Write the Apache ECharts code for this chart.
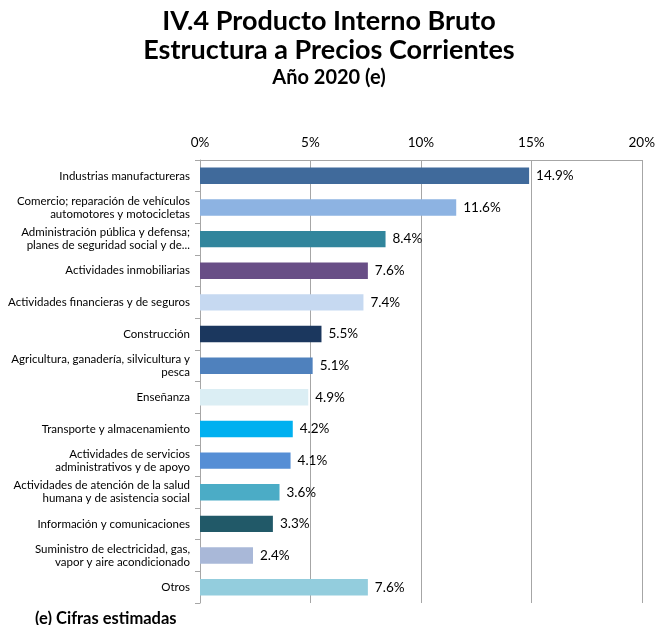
<!DOCTYPE html>
<html>
<head>
<meta charset="utf-8">
<script src="https://cdn.jsdelivr.net/npm/echarts@6/dist/echarts.min.js"></script>
<style>
  html, body { margin: 0; padding: 0; background: #fff; }
  #chart { width: 658px; height: 625px; }
</style>
</head>
<body>
<div id="chart"></div>
<script>
// sectores, de mayor a menor (Otros al final)
const categories = [
  'Industrias manufactureras',
  'Comercio; reparación de vehículos\nautomotores y motocicletas',
  'Administración pública y defensa;\nplanes de seguridad social y de...',
  'Actividades inmobiliarias',
  'Actividades financieras y de seguros',
  'Construcción',
  'Agricultura, ganadería, silvicultura y\npesca',
  'Enseñanza',
  'Transporte y almacenamiento',
  'Actividades de servicios\nadministrativos y de apoyo',
  'Actividades de atención de la salud\nhumana y de asistencia social',
  'Información y comunicaciones',
  'Suministro de electricidad, gas,\nvapor y aire acondicionado',
  'Otros'
]
const shares = [14.9, 11.6, 8.4, 7.6, 7.4, 5.5, 5.1, 4.9, 4.2, 4.1, 3.6, 3.3, 2.4, 7.6]
const barColors = [
  '#406A9B', '#8DB3E2', '#31859C', '#684E86', '#C6D9F1', '#1B375E', '#4F81BD',
  '#DBEEF4', '#00B0F0', '#558ED5', '#4BACC6', '#215968', '#A9B8D8', '#93CDDD'
]
const xTicks = [0, 5, 10, 15, 20]

const font = 'Lato, "Open Sans", sans-serif'
const titleStyle = { fontFamily: font, fontSize: 27, fontWeight: 'bold', color: '#000' }
const chart = echarts.init(document.getElementById('chart'))
chart.setOption({
  animation: false,
  title: [{
    text: 'IV.4 Producto Interno Bruto',
    left: 'center', top: 3,
    textStyle: titleStyle
  }, {
    text: 'Estructura a Precios Corrientes',
    left: 'center', top: 32,
    textStyle: titleStyle
  }, {
    text: 'Año 2020 (e)',
    left: 'center', top: 63,
    textStyle: { fontFamily: font, fontSize: 20, fontWeight: 'bold', color: '#000' }
  }, {
    text: '(e) Cifras estimadas',
    left: 30, top: 605,
    textStyle: { fontFamily: font, fontSize: 16.5, fontWeight: 'bold', color: '#000' }
  }],
  grid: { left: 200, right: 16, top: 160, bottom: 22 },
  xAxis: {
    type: 'value',
    position: 'top',
    min: xTicks[0],
    max: xTicks[xTicks.length - 1],
    interval: 5,
    axisLine: { show: true, lineStyle: { color: '#A6A6A6' } },
    axisTick: { show: false },
    axisLabel: {
      formatter: '{value}%',
      fontFamily: font, fontSize: 13.5, color: '#000', margin: 10
    },
    splitLine: { show: true, lineStyle: { color: '#A6A6A6', width: 1 } }
  },
  yAxis: {
    type: 'category',
    inverse: true,
    data: categories,
    axisLine: { show: true, lineStyle: { color: '#A6A6A6' } },
    axisTick: { show: true, interval: 0, length: 5, lineStyle: { color: '#A6A6A6' } },
    axisLabel: {
      interval: 0,
      fontFamily: font, fontSize: 11.5, color: '#000', lineHeight: 13,
      align: 'right', margin: 10
    }
  },
  series: [{
    type: 'bar',
    barWidth: '52%',
    data: shares.map((v, i) => ({ value: v, itemStyle: { color: barColors[i] } })),
    label: {
      show: true,
      position: 'right',
      distance: 7,
      formatter: p => p.value.toFixed(1) + '%',
      fontFamily: font, fontSize: 13.5, color: '#000'
    }
  }]
})
</script>
</body>
</html>
